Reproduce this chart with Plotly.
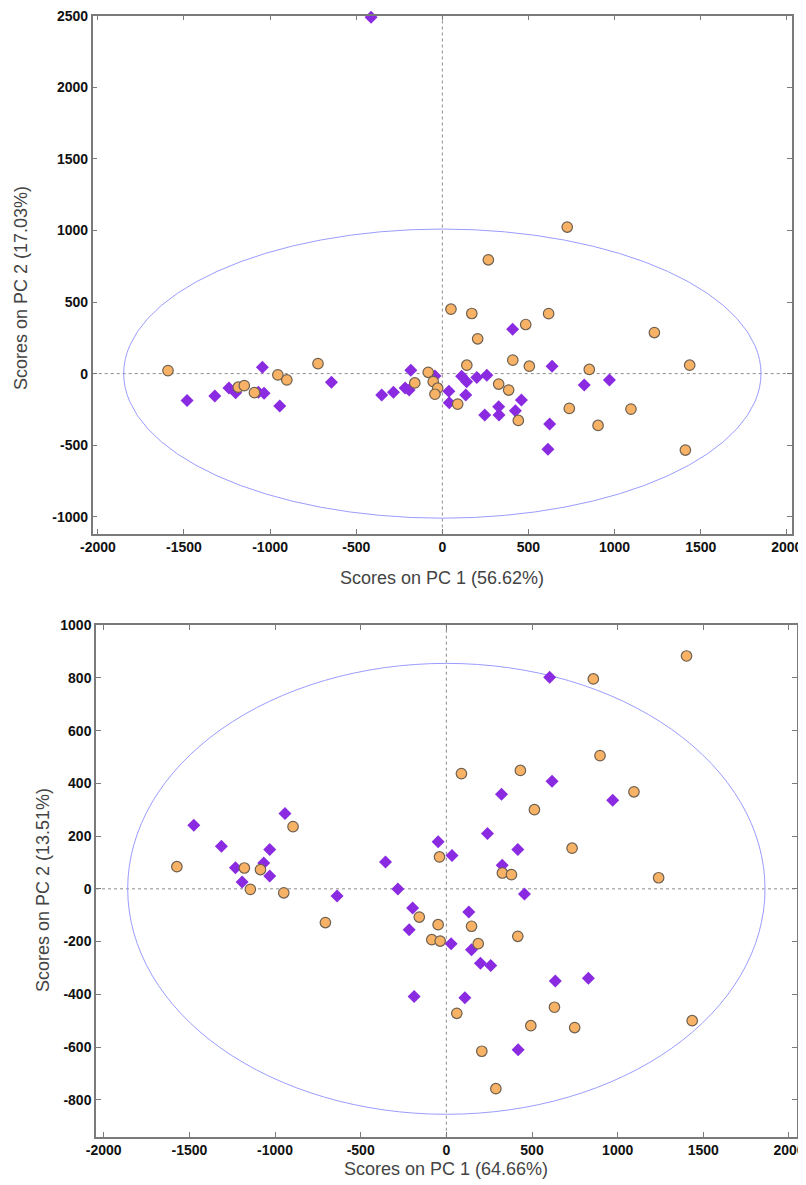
import plotly.graph_objects as go

# ---------------- data: top panel (PC1 56.62% / PC2 17.03%) ----------------
top_circle_x = [-1593, -1185, -1150, -1091, -955, -903, -722, -160, -82, -53, -27, -43,
                50, 267, 171, 205, 484, 617, 409, 505, 142, 327, 385, 89, 441, 737,
                853, 904, 1095, 1231, 1436, 1411, 725]
top_circle_y = [21, -95, -84, -133, -9, -44, 70, -65, 9, -56, -102, -144,
                450, 795, 420, 243, 343, 419, 94, 52, 59, -73, -115, -213, -327, -243,
                29, -362, -248, 287, 59, -534, 1024]
top_diamond_x = [-414, -1482, -1321, -1239, -1200, -1045, -1068, -1035, -944, -644, -352,
                 -284, -216, -193, -183, -43, 38, 40, 408, 112, 141, 200, 258, 136, 246,
                 327, 329, 424, 459, 637, 623, 613, 824, 970]
top_diamond_y = [2490, -188, -156, -100, -133, 44, -130, -137, -226, -60, -149,
                 -130, -100, -114, 23, -16, -123, -203, 310, -18, -57, -27, -11, -150, -289,
                 -231, -289, -259, -185, 52, -352, -529, -80, -45]

# ---------------- data: bottom panel (PC1 64.66% / PC2 13.51%) ----------------
bot_circle_x = [-1573, -1179, -1085, -1144, -895, -949, -40, 1402, 858, 897, 88, 432, 1095,
                514, 734, 327, 380, 1239, -706, -158, -48, -85, -36, 147, 186, 417, 61,
                207, 289, 493, 631, 749, 1435]
bot_circle_y = [84, 79, 73, -2, 236, -15, 121, 883, 796, 505, 437, 449, 368,
                300, 154, 60, 54, 42, -128, -107, -136, -193, -198, -142, -208, -180, -472,
                -616, -758, -519, -449, -526, -500]
bot_diamond_x = [-1474, -1313, -1231, -1192, -1066, -1031, -1031, -942, -638, -355, -283,
                 -197, -48, 33, 603, 617, 971, 322, 240, 417, 326, 456, 131, -217, -188,
                 28, 147, 199, 259, 108, 636, 829, 419]
bot_diamond_y = [241, 161, 80, 26, 98, 149, 49, 286, -27, 102, -1,
                 -73, 179, 126, 802, 408, 336, 359, 210, 149, 89, -20, -88, -155, -408,
                 -208, -231, -282, -291, -413, -350, -339, -610]

# tick values / labels
x_ticks = [-2000, -1500, -1000, -500, 0, 500, 1000, 1500, 2000]
top_y_ticks = [-1000, -500, 0, 500, 1000, 1500, 2000, 2500]
bot_y_ticks = [-800, -600, -400, -200, 0, 200, 400, 600, 800, 1000]

# confidence ellipse semi-axes (data units)
top_ellipse = (1850, 1010)
bot_ellipse = (1860, 855)

top_xtitle = "Scores on PC 1 (56.62%)"
top_ytitle = "Scores on PC 2 (17.03%)"
bot_xtitle = "Scores on PC 1 (64.66%)"
bot_ytitle = "Scores on PC 2 (13.51%)"

W, H = 806, 1185
OFF = 8  # page body margin of the html page
CIRCLE_FILL = "#f8b266"
CIRCLE_LINE = "#6e6050"
DIAMOND = "#8a2be2"
ELLIPSE = "#9a9cff"
AXIS = "#7a7a7a"

fig = go.Figure()

def add_points(xs, ys, xa, ya, kind):
    if kind == "diamond":
        marker = dict(symbol="diamond", size=10, color=DIAMOND, line=dict(width=0))
    else:
        marker = dict(symbol="circle", size=10.5, color=CIRCLE_FILL,
                      line=dict(width=1.2, color=CIRCLE_LINE))
    fig.add_trace(go.Scatter(x=xs, y=ys, mode="markers", marker=marker,
                             xaxis=xa, yaxis=ya, showlegend=False, cliponaxis=False))

add_points(top_diamond_x, top_diamond_y, "x", "y", "diamond")
add_points(top_circle_x, top_circle_y, "x", "y", "circle")
add_points(bot_diamond_x, bot_diamond_y, "x2", "y2", "diamond")
add_points(bot_circle_x, bot_circle_y, "x2", "y2", "circle")

shapes = []
for xr, yr, (a, b) in [("x", "y", top_ellipse), ("x2", "y2", bot_ellipse)]:
    shapes.append(dict(type="circle", xref=xr, yref=yr, x0=-a, x1=a, y0=-b, y1=b,
                       line=dict(color=ELLIPSE, width=1), layer="below"))
    shapes.append(dict(type="line", xref=xr + " domain", yref=yr, x0=0, x1=1, y0=0, y1=0,
                       line=dict(color="#8c8c8c", width=1, dash="dot"), layer="below"))
    shapes.append(dict(type="line", xref=xr, yref=yr + " domain", x0=0, x1=0, y0=0, y1=1,
                       line=dict(color="#8c8c8c", width=1, dash="dot"), layer="below"))

tickfont = dict(family="Liberation Sans, Arial, sans-serif", size=14, color="#111", weight="bold")
common = dict(showgrid=False, zeroline=False, showline=True, linecolor=AXIS, linewidth=1.5,
              mirror="ticks", ticks="inside", ticklen=5, tickcolor=AXIS, tickwidth=1,
              tickfont=tickfont, automargin=False, ticklabeloverflow="allow")

def dx(l, r):
    return [(l - OFF) / W, (r - OFF) / W]

def dy(top, bottom):
    return [1 - (bottom - OFF) / H, 1 - (top - OFF) / H]

def ticks(vals):
    return dict(tickmode="array", tickvals=vals, ticktext=[str(v) for v in vals])

fig.update_layout(
    width=W, height=H, margin=dict(l=0, r=0, t=0, b=0, autoexpand=False),
    plot_bgcolor="white", paper_bgcolor="white", showlegend=False,
    shapes=shapes,
    xaxis=dict(domain=dx(92.7, 792), range=[-2030, 2030], anchor="y", **ticks(x_ticks), **common),
    yaxis=dict(domain=dy(15.7, 533.5), range=[-1117, 2500.5], anchor="x", **ticks(top_y_ticks), **common),
    xaxis2=dict(domain=dx(96, 796.7), range=[-2045, 2045], anchor="y2", **ticks(x_ticks), **common),
    yaxis2=dict(domain=dy(625, 1136.7), range=[-940, 1000.5], anchor="x2", **ticks(bot_y_ticks), **common),
)

titlefont = dict(family="Liberation Sans, Arial, sans-serif", size=18, color="#444")
annos = [
    dict(text=top_xtitle, px=442, py=578, angle=0),
    dict(text=top_ytitle, px=21, py=288, angle=-90),
    dict(text=bot_xtitle, px=446, py=1169, angle=0),
    dict(text=bot_ytitle, px=43, py=890, angle=-90),
]
for a in annos:
    fig.add_annotation(xref="paper", yref="paper", showarrow=False, font=titlefont,
                       xanchor="center", yanchor="middle", text=a["text"],
                       x=(a["px"] - OFF) / W, y=1 - (a["py"] - OFF) / H, textangle=a["angle"])

fig.write_html("out.html")
